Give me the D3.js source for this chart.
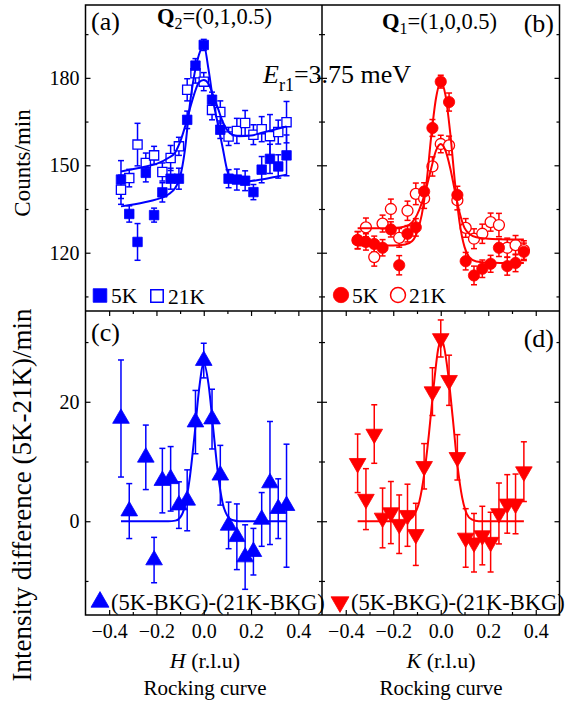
<!DOCTYPE html>
<html>
<head>
<meta charset="utf-8">
<script src="https://cdn.jsdelivr.net/npm/d3@7"></script>
<style>
  body { margin: 0; background: #fff; }
  text { font-family: "Liberation Serif", "Times New Roman", serif; fill: #000; }
</style>
</head>
<body>
<div id="chart"></div>
<script>
// ---- data ----
const hPos = [-0.35,-0.315,-0.28,-0.245,-0.21,-0.175,-0.14,-0.105,-0.07,-0.035,0,0.035,0.07,0.105,0.14,0.175,0.21,0.245,0.28,0.315,0.35];
const kPos = [-0.35,-0.315,-0.28,-0.245,-0.21,-0.175,-0.14,-0.105,-0.07,-0.035,0,0.035,0.07,0.105,0.14,0.175,0.21,0.245,0.28,0.315,0.35];

// (a) Q2 = (0,1,0.5)
const a5K     = [145.1,133.3,123.7,147.4,132.9,140.7,145.4,145.4,165.6,184.2,191.3,172.5,162.2,145.4,145.1,144.7,140.8,148.5,152.2,149.6,153.4];
const a5KErr  = [6.5,2.8,6.3,3.1,2.4,3.3,3.6,3.6,3,2.4,1.9,2.6,3,3.1,3.6,3.4,2.6,4.5,5,4,7];
const a21K    = [141.6,145.6,157.1,150.8,153.4,147.7,152.5,156.5,175.9,181.6,178.7,169,168.3,159.9,161.8,164.5,160.5,162.4,160,161.4,164.8];
const a21KErr = [5,3,7.3,3.4,3.1,3.1,4.3,3.1,3.8,3.4,3.1,3.4,3.8,3.1,4.3,4.3,3.4,4.3,7.4,4.1,7.1];

// (b) Q1 = (1,0,0.5)
const b5K     = [124.3,123.7,123.0,121.7,128,115.7,126.5,128.7,141,162.8,178.7,171.7,139.8,117.1,112.2,114.5,116.2,121.7,115.4,116.5,120.3];
const b5KErr  = [2.9,2.8,2.7,2.8,2.6,3.3,2.8,3,3,2.9,2.2,3.1,3,3,3.2,3,2.9,3,3.1,3,3];
const b21K    = [124.3,128.7,118.5,130,135,125.1,134.4,140.2,138.6,149.6,157.3,156.8,138,128.5,124.8,126.5,130.5,129.5,121.7,122.6,120.9];
const b21KErr = [3,3.2,3.1,2.9,3.4,3.2,3.3,3.7,3.4,3.3,3,3.2,3.3,3.2,3.4,3.3,3.1,4,3.3,3.3,3.2];

// (c) difference, H scan
const cPos  = [-0.35,-0.315,-0.245,-0.21,-0.175,-0.14,-0.105,-0.07,-0.035,0,0.035,0.07,0.105,0.14,0.175,0.21,0.245,0.28,0.315,0.35];
const cDiff = [17.2,1.7,10.7,-6.5,6.8,7.1,2.7,3.5,16.6,26.9,17.1,7.7,-0.7,-2.6,-6.0,-5.1,0.3,6.4,2.1,2.6];
const cErr  = [9.8,4.6,5.4,3.8,5.4,5.4,3.9,5.1,5.3,2.9,5,5,3.9,5.5,5.4,3.9,4.5,10.3,5,10.3];

// (d) difference, K scan
const dDiff = [9.7,3.7,14.6,0.55,1.45,-0.5,1.0,-2.2,9.2,21.7,30.6,23.6,10.7,-2.8,-3.6,-2.4,-3.5,1.3,2.9,2.9,8.3];
const dErr  = [4.9,5.1,4.9,5,5.2,4.9,5.2,5.2,3.8,4,3.1,4.2,3.8,4.9,4.9,4.9,5,5.1,4.9,5,5];

// fitted curves
const fitAx   = [-0.35,-0.25,-0.2,-0.15,-0.12,-0.1,-0.08,-0.06,-0.04,-0.02,0,0.02,0.04,0.06,0.08,0.1,0.12,0.15,0.2,0.25,0.3,0.35];
const fitA5K  = [135.9,137.3,138.3,140,142.3,146,155,170,181,188,191.3,183,172,164,156,148,145,144.3,144.6,145.2,146,146.8];
const fitA21K = [147.9,149.5,150.5,152.5,154.5,158,163,169,174.5,178.5,179.3,178,174,169.5,165,162,160.5,160,160.2,161.3,162.3,163.3];
const fitBx   = [-0.35,-0.25,-0.2,-0.15,-0.12,-0.1,-0.08,-0.06,-0.04,-0.02,0,0.02,0.04,0.06,0.08,0.1,0.12,0.15,0.2,0.25,0.3,0.35];
const fitB5K  = [122.5,122.5,122.5,122.8,124,127,133,144,160,173,178.5,174,161,144,130,122,118.5,117,116.6,116.5,116.5,116.5];
const fitB21K = [128.4,128.4,128.5,129,130.5,133,137,142.5,149,155,157.3,155,149,141,133.5,128.5,126.5,125.3,124.8,124.6,124.5,124.5];
const fitCx   = [-0.35,-0.2,-0.15,-0.12,-0.1,-0.08,-0.06,-0.04,-0.02,0,0.02,0.04,0.06,0.08,0.1,0.12,0.15,0.2,0.35];
const fitC    = [0,0,0,0.1,0.6,2.5,7,14,22,26.5,23,15.5,8,3,0.9,0.2,0,0,0];
const fitDx   = [-0.35,-0.2,-0.16,-0.13,-0.11,-0.09,-0.07,-0.05,-0.03,-0.01,0,0.01,0.03,0.05,0.07,0.09,0.11,0.13,0.16,0.2,0.35];
const fitD    = [0,0,0,0.3,1.2,3.3,7.8,14.5,22.5,29,30.3,29.8,25,17.5,9.5,4,1.2,0.3,0,0,0];

const xTicks = [-0.4,-0.2,0,0.2,0.4];
const xMinor = [-0.3,-0.1,0.1,0.3];
const topTicks = [120,150,180];
const topMinor = [105,135,165,195];
const botTicks = [0,20];
const botMinor = [-10,10,30];

// ---- layout ----
const W = 570, H = 705;
const L = 85.5, M = 322, R = 559.5, T = 5, MID = 311, B = 615;
const BLUE = '#0000ff', RED = '#ff0000';

const svg = d3.select('#chart').append('svg')
  .attr('width', W).attr('height', H);

const xLeft  = d3.scaleLinear().domain([-0.5, 0.5]).range([L, M]);
const xRight = d3.scaleLinear().domain([-0.5, 0.5]).range([M, R]);
const yTop   = d3.scaleLinear().domain([100, 205]).range([MID, T]);
const yBot   = d3.scaleLinear().domain([-15.7, 35.2]).range([B, MID]);

function yAxes(x, y, major, minor, labels) {
  const x0 = x.range()[0], x1 = x.range()[1];
  const left = svg.append('g').attr('transform', `translate(${x0},0)`)
    .call(d3.axisLeft(y).tickValues(major).tickSize(-5).tickPadding(6)
      .tickFormat(labels ? d3.format('d') : ''));
  svg.append('g').attr('transform', `translate(${x0},0)`)
    .call(d3.axisLeft(y).tickValues(minor).tickSize(-3).tickFormat(''));
  svg.append('g').attr('transform', `translate(${x1},0)`)
    .call(d3.axisRight(y).tickValues(major).tickSize(-5).tickFormat(''));
  svg.append('g').attr('transform', `translate(${x1},0)`)
    .call(d3.axisRight(y).tickValues(minor).tickSize(-3).tickFormat(''));
  left.selectAll('text').style('font-size', '20px');
}

function xAxes(x) {
  const bot = svg.append('g').attr('transform', `translate(0,${B})`)
    .call(d3.axisBottom(x).tickValues(xTicks).tickSize(-5).tickPadding(9)
      .tickFormat(d3.format('.1f')));
  bot.selectAll('text').style('font-size', '20px');
  svg.append('g').attr('transform', `translate(0,${B})`)
    .call(d3.axisBottom(x).tickValues(xMinor).tickSize(-3).tickFormat(''));
  svg.append('g').attr('transform', `translate(0,${MID})`)
    .call(d3.axisTop(x).tickValues(xTicks).tickSize(-5).tickFormat(''));
  svg.append('g').attr('transform', `translate(0,${MID})`)
    .call(d3.axisTop(x).tickValues(xMinor).tickSize(-3).tickFormat(''));
}

yAxes(xLeft, yTop, topTicks, topMinor, true);
yAxes(xRight, yTop, topTicks, topMinor, false);
yAxes(xLeft, yBot, botTicks, botMinor, true);
yAxes(xRight, yBot, botTicks, botMinor, false);
xAxes(xLeft);
xAxes(xRight);
svg.selectAll('.domain').remove();
svg.selectAll('.tick line').attr('stroke', '#000').attr('stroke-width', 1.2);

function errorBars(x, y, xs, vals, errs, color) {
  const g = svg.append('g').attr('stroke', color).attr('stroke-width', 1.5).attr('fill', 'none');
  xs.forEach((xv, i) => {
    const px = x(xv), lo = y(vals[i] - errs[i]), hi = y(vals[i] + errs[i]);
    g.append('line').attr('x1', px).attr('x2', px).attr('y1', lo).attr('y2', hi);
    g.append('line').attr('x1', px - 3).attr('x2', px + 3).attr('y1', lo).attr('y2', lo);
    g.append('line').attr('x1', px - 3).attr('x2', px + 3).attr('y1', hi).attr('y2', hi);
  });
}

function markers(x, y, xs, vals, type, size, color, open, rot) {
  svg.append('g').selectAll('path').data(vals).join('path')
    .attr('d', d3.symbol().type(type).size(size))
    .attr('transform', (d, i) => `translate(${x(xs[i])},${y(d)})${rot ? ' rotate(180)' : ''}`)
    .attr('fill', open ? '#fff' : color)
    .attr('stroke', color)
    .attr('stroke-width', open ? 1.3 : 0.8);
}

function fitLine(x, y, xs, vals, color) {
  svg.append('path')
    .datum(xs.map((xv, i) => [xv, vals[i]]))
    .attr('fill', 'none').attr('stroke', color).attr('stroke-width', 2)
    .attr('d', d3.line().x(d => x(d[0])).y(d => y(d[1])).curve(d3.curveMonotoneX));
}

// (a)
errorBars(xLeft, yTop, hPos, a21K, a21KErr, BLUE);
errorBars(xLeft, yTop, hPos, a5K, a5KErr, BLUE);
markers(xLeft, yTop, hPos, a21K, d3.symbolSquare, 85, BLUE, true);
markers(xLeft, yTop, hPos, a5K, d3.symbolSquare, 90, BLUE, false);
fitLine(xLeft, yTop, fitAx, fitA21K, BLUE);
fitLine(xLeft, yTop, fitAx, fitA5K, BLUE);

// (b)
errorBars(xRight, yTop, kPos, b21K, b21KErr, RED);
errorBars(xRight, yTop, kPos, b5K, b5KErr, RED);
markers(xRight, yTop, kPos, b21K, d3.symbolCircle, 95, RED, true);
markers(xRight, yTop, kPos, b5K, d3.symbolCircle, 100, RED, false);
fitLine(xRight, yTop, fitBx, fitB21K, RED);
fitLine(xRight, yTop, fitBx, fitB5K, RED);

// (c)
errorBars(xLeft, yBot, cPos, cDiff, cErr, BLUE);
markers(xLeft, yBot, cPos, cDiff, d3.symbolTriangle, 120, BLUE, false);
fitLine(xLeft, yBot, fitCx, fitC, BLUE);

// (d)
errorBars(xRight, yBot, kPos, dDiff, dErr, RED);
markers(xRight, yBot, kPos, dDiff, d3.symbolTriangle, 120, RED, false, true);
fitLine(xRight, yBot, fitDx, fitD, RED);

// frames
svg.append('rect').attr('x', L).attr('y', T).attr('width', R - L).attr('height', B - T)
  .attr('fill', 'none').attr('stroke', '#000').attr('stroke-width', 1.5);
svg.append('line').attr('x1', M).attr('x2', M).attr('y1', T).attr('y2', B)
  .attr('stroke', '#000').attr('stroke-width', 1.5);
svg.append('line').attr('x1', L).attr('x2', R).attr('y1', MID).attr('y2', MID)
  .attr('stroke', '#000').attr('stroke-width', 1.5);

// panel letters
const letters = [['(a)', 91, 30, 'start'], ['(b)', 554, 32, 'end'], ['(c)', 91, 341, 'start'], ['(d)', 554, 347, 'end']];
letters.forEach(([t, x, y, a]) => svg.append('text').attr('x', x).attr('y', y)
  .attr('text-anchor', a).style('font-size', '26px').text(t));

// Q labels
function qLabel(x, y, sub, rest) {
  const t = svg.append('text').attr('x', x).attr('y', y).style('font-size', '22.5px');
  t.append('tspan').style('font-weight', 'bold').text('Q');
  t.append('tspan').attr('dy', 5).style('font-size', '16px').text(sub);
  t.append('tspan').attr('dy', -5).text(rest);
}
qLabel(157, 24, '2', '=(0,1,0.5)');
qLabel(382, 29, '1', '=(1,0,0.5)');

// energy label
const eL = svg.append('text').attr('x', 263).attr('y', 83).style('font-size', '26px');
eL.append('tspan').style('font-style', 'italic').text('E');
eL.append('tspan').attr('dy', 8).style('font-size', '18px').text('r1');
eL.append('tspan').attr('dy', -8).text('=3.75 meV');

// legends
function legendItem(x, y, type, size, color, open, rot, label, fs) {
  svg.append('path').attr('d', d3.symbol().type(type).size(size)())
    .attr('transform', `translate(${x},${y})${rot ? ' rotate(180)' : ''}`)
    .attr('fill', open ? '#fff' : color).attr('stroke', color)
    .attr('stroke-width', open ? 1.5 : 0.8);
  svg.append('text').attr('x', x + 11).attr('y', y + 7.5).style('font-size', fs).text(label);
}
legendItem(100, 295.5, d3.symbolSquare, 185, BLUE, false, false, '5K', '21.5px');
legendItem(157, 296, d3.symbolSquare, 155, BLUE, true, false, '21K', '21.5px');
legendItem(341, 295, d3.symbolCircle, 185, RED, false, false, '5K', '21.5px');
legendItem(398, 295, d3.symbolCircle, 175, RED, true, false, '21K', '21.5px');
legendItem(100, 602, d3.symbolTriangle, 140, BLUE, false, false, '(5K-BKG)-(21K-BKG)', '22.5px');
legendItem(340, 602, d3.symbolTriangle, 140, RED, false, true, '(5K-BKG)-(21K-BKG)', '22.5px');

// axis titles
function xTitle(cx, v) {
  const t = svg.append('text').attr('x', cx).attr('y', 668).attr('text-anchor', 'middle').style('font-size', '22px');
  t.append('tspan').style('font-style', 'italic').text(v);
  t.append('tspan').text(' (r.l.u)');
  svg.append('text').attr('x', cx).attr('y', 695).attr('text-anchor', 'middle')
    .style('font-size', '21px').text('Rocking curve');
}
xTitle(205, 'H');
xTitle(441, 'K');

svg.append('text').attr('transform', 'translate(30,163) rotate(-90)')
  .attr('text-anchor', 'middle').style('font-size', '23px').text('Counts/min');
svg.append('text').attr('transform', 'translate(31,495) rotate(-90)')
  .attr('text-anchor', 'middle').style('font-size', '27px').text('Intensity difference (5K-21K)/min');
</script>
</body>
</html>
